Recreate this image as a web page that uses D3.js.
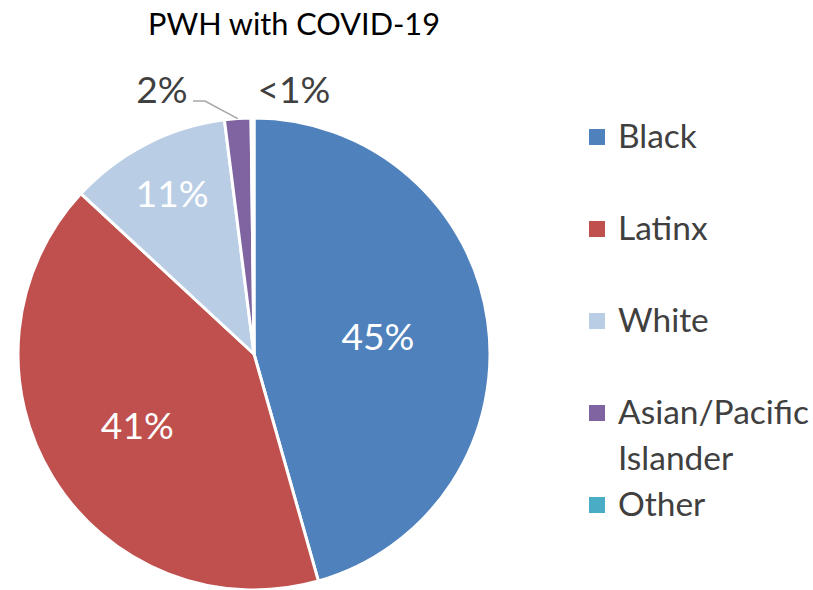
<!DOCTYPE html>
<html><head><meta charset="utf-8">
<script src="https://cdn.jsdelivr.net/npm/d3@7"></script>
<style>body{margin:0;background:#fff}svg{display:block}</style>
</head><body>
<svg id="c" width="813" height="590"></svg>
<script>
const categories = ["Black", "Latinx", "White", "Asian/Pacific Islander", "Other"];
const values = [45.6, 41.3, 11.1, 1.8, 0.2];
const labels = ["45%", "41%", "11%", "2%", "<1%"];
const colors = ["#4F81BD", "#C0504D", "#B9CDE5", "#8064A2", "#4BACC6"];
const legendLines = [["Black"], ["Latinx"], ["White"], ["Asian/Pacific", "Islander"], ["Other"]];
const title = "PWH with COVID-19";

const svg = d3.select("#c");
const FONT = "Lato, 'Open Sans', sans-serif";
const cx = 254, cy = 354, R = 236;

function fitSize(str, width) {
  const t = svg.append("text").attr("font-family", FONT).attr("font-size", 100).text(str);
  const w = t.node().getComputedTextLength();
  t.remove();
  return 100 * width / w;
}

// title
svg.append("text").attr("x", 294).attr("y", 35).attr("text-anchor", "middle")
  .attr("font-family", FONT).attr("font-size", fitSize(title, 292)).attr("fill", "#000").text(title);

const pie = d3.pie().sort(null).value(d => d)(values);
const arc = d3.arc().innerRadius(0).outerRadius(R);
const g = svg.append("g").attr("transform", `translate(${cx},${cy})`);
g.selectAll("path").data(pie).join("path")
  .attr("d", arc).attr("fill", (d, i) => colors[i])
  .attr("stroke", "#fff").attr("stroke-width", 3).attr("stroke-linejoin", "round");

const lblSize = fitSize("45%", 73);
// inside labels
const innerFactor = [0.53, 0.58, 0.76];
innerFactor.forEach((f, i) => {
  const a = (pie[i].startAngle + pie[i].endAngle) / 2;
  g.append("text").attr("x", Math.sin(a) * R * f).attr("y", -Math.cos(a) * R * f)
    .attr("dy", "0.35em").attr("text-anchor", "middle")
    .attr("font-family", FONT).attr("font-size", lblSize).attr("fill", "#fff").text(labels[i]);
});
// outside labels (polar: angle in degrees, distance)
const outer = [{i: 3, ang: -19.2, dist: 280}, {i: 4, ang: 8.6, dist: 267}];
outer.forEach(o => {
  const a = o.ang * Math.PI / 180;
  g.append("text").attr("x", Math.sin(a) * o.dist).attr("y", -Math.cos(a) * o.dist)
    .attr("dy", "0.35em").attr("text-anchor", "middle")
    .attr("font-family", FONT).attr("font-size", lblSize).attr("fill", "#404040").text(labels[o.i]);
});
// leader line for Asian slice
{
  const d = pie[3];
  const a = (d.startAngle + d.endAngle) / 2;
  const ex = Math.sin(a) * R, ey = -Math.cos(a) * R;
  g.append("polyline")
    .attr("points", `${193 - cx},${101 - cy} ${205 - cx},${101 - cy} ${ex},${ey}`)
    .attr("fill", "none").attr("stroke", "#A6A6A6").attr("stroke-width", 1.5);
}

// legend
const legSize = fitSize("Asian/Pacific", 191);
const legY = d3.scaleLinear().domain([0, 1]).range([148, 240]);
legendLines.forEach((lines, i) => {
  const base = legY(i);
  svg.append("rect").attr("x", 589).attr("y", base - 19).attr("width", 16).attr("height", 16).attr("fill", colors[i]);
  lines.forEach((ln, j) => {
    svg.append("text").attr("x", 618).attr("y", base + j * 46)
      .attr("font-family", FONT).attr("font-size", legSize).attr("fill", "#404040").text(ln);
  });
});
</script>
</body></html>
